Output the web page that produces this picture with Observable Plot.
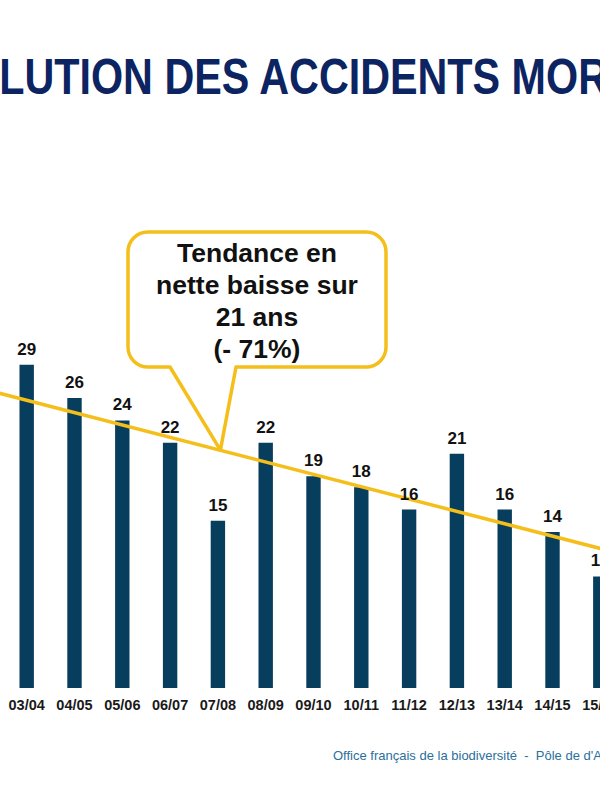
<!DOCTYPE html>
<html><head><meta charset="utf-8">
<script src="https://cdn.jsdelivr.net/npm/d3@7"></script>
<script src="https://cdn.jsdelivr.net/npm/@observablehq/plot@0.6"></script>
<style>
html,body{margin:0;padding:0;background:#fff;overflow:hidden;width:600px;height:791px;}
#page{position:relative;width:600px;height:791px;overflow:hidden;font-family:"Liberation Sans",Arial,sans-serif;background:#fff;}
#title{position:absolute;left:-88px;top:60px;font-size:41.3px;font-weight:bold;color:#0c2461;white-space:nowrap;line-height:1;transform:scaleY(1.22);transform-origin:0 34.7px;}
#chart{position:absolute;left:0;top:130px;}
#footer{position:absolute;left:333px;top:748px;font-size:13px;color:#2b6f9b;white-space:pre;}
</style></head><body>
<div id="page">
<div id="title">ÉVOLUTION DES ACCIDENTS MORTELS</div>
<div id="chart"></div>
<div id="footer">Office français de la biodiversité  -  Pôle de d'A</div>
</div>
<script>
// Data
const seasons = ["03/04","04/05","05/06","06/07","07/08","08/09","09/10","10/11","11/12","12/13","13/14","14/15","15/16"];
const accidents = [29,26,24,22,15,22,19,18,16,21,16,14,10];
const trendSeasons = ["02/03","15/16"];
const trendValues = [26.96, 12.56];
const calloutLines = ["Tendance en","nette baisse sur","21 ans","(- 71%)"];
const calloutSeason = "07/08";

const startYear = s => 2000 + parseInt(s.slice(0, 2), 10);
const bars = seasons.map((s, i) => ({season: s, year: startYear(s), value: accidents[i]}));
const trend = trendSeasons.map((s, i) => ({year: startYear(s), value: trendValues[i]}));

const W = 600, H = 600;
const chart = Plot.plot({
  width: W, height: H,
  marginLeft: 0, marginRight: 0, marginTop: 112, marginBottom: 42,
  style: {background: "transparent", fontFamily: "'Liberation Sans', Arial, sans-serif", overflow: "hidden"},
  x: {type: "linear", domain: [2002.452, 2015.004], axis: null},
  y: {domain: [0, 40], axis: null},
  marks: [
    Plot.ruleX(bars, {x: "year", y1: 0, y2: "value", stroke: "#073d5d", strokeWidth: 14.4}),
    Plot.line(trend, {x: "year", y: "value", stroke: "#f4bf1a", strokeWidth: 3.5, clip: true}),
    Plot.text(bars, {x: "year", y: "value", text: d => String(d.value), dy: -16, fontSize: 17, fontWeight: "bold", fill: "#111"}),
    Plot.text(bars, {x: "year", y: 0, text: "season", dy: 17, fontSize: 14.5, fontWeight: "bold", fill: "#1a1a1a"})
  ]
});
document.getElementById("chart").appendChild(chart);

// Callout annotation anchored on the trend line
const xs = chart.scale("x"), ys = chart.scale("y");
const ay = startYear(calloutSeason);
const t0 = trend[0], t1 = trend[trend.length - 1];
const av = t0.value + (t1.value - t0.value) * (ay - t0.year) / (t1.year - t0.year);
const tipX = xs.apply(ay) + 3, tipY = ys.apply(av) + 1;
const x0 = 128, x1 = 386, y0 = 102, y1 = 237, r = 20, pL = 170, pR = 236;
const svg = d3.select(chart);
const g = svg.append("g");
g.append("path")
  .attr("d", `M${x0 + r},${y0}H${x1 - r}A${r},${r} 0 0 1 ${x1},${y0 + r}V${y1 - r}A${r},${r} 0 0 1 ${x1 - r},${y1}H${pR}L${tipX},${tipY}L${pL},${y1}H${x0 + r}A${r},${r} 0 0 1 ${x0},${y1 - r}V${y0 + r}A${r},${r} 0 0 1 ${x0 + r},${y0}Z`)
  .attr("fill", "#fff").attr("stroke", "#f4bf1a").attr("stroke-width", 3.5).attr("stroke-linejoin", "round");
g.selectAll("text").data(calloutLines).join("text")
  .attr("x", (x0 + x1) / 2).attr("y", (d, i) => 132 + i * 32)
  .attr("text-anchor", "middle").attr("font-size", 26.5).attr("font-weight", "bold")
  .attr("fill", "#111").attr("font-family", "'Liberation Sans', Arial, sans-serif")
  .text(d => d);
</script>
</body></html>
